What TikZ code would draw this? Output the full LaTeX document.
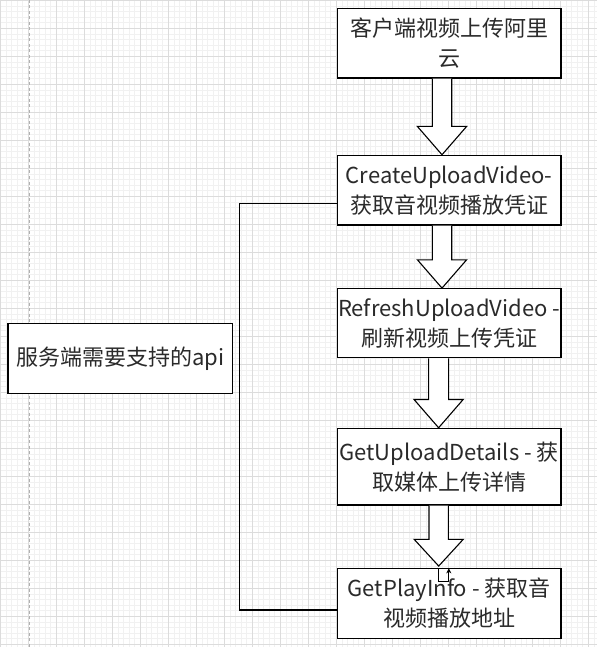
\documentclass[tikz,border=0pt]{standalone}
\usepackage{fontspec}
\setmainfont{Noto Sans CJK SC}
\usetikzlibrary{calc,arrows.meta}
\definecolor{gridmajor}{HTML}{DCDCDC}
\definecolor{gridminor}{HTML}{F1F1F1}
\definecolor{dashgray}{HTML}{B0B0B0}
\definecolor{txt}{HTML}{2A2A2A}
\tikzset{
  box/.style={draw=black, line width=1.2pt, fill=white, minimum width=223.7pt,
    minimum height=69.7pt, inner sep=0pt, align=center, text=txt,
    font=\fontsize{22}{30}\selectfont},
  blk/.style={draw=black, line width=1.1pt, fill=white, line join=miter},
  conn/.style={draw=black, line width=1.2pt},
}
\newcommand\blockarrow[5]{% from, to, x offset, shaft half width, head length
  \draw[blk] let \p1=(#1.south), \p2=(#2.north) in
    (\x1+#3pt-#4pt,\y1) -- (\x1+#3pt-#4pt,\y2+#5pt) -- (\x1+#3pt-24.6pt,\y2+#5pt)
    -- (\x1+#3pt,\y2) -- (\x1+#3pt+24.6pt,\y2+#5pt) -- (\x1+#3pt+#4pt,\y2+#5pt)
    -- (\x1+#3pt+#4pt,\y1);
}
\begin{document}
\begin{tikzpicture}[x=1pt,y=-1pt]
\useasboundingbox (0,0) rectangle (597,647);
\fill[white] (0,0) rectangle (597,647);
% minor grid
\foreach \i in {0,...,107} {
  \draw[gridminor, line width=0.7pt] ({0.3+5.6*\i},0) -- ({0.3+5.6*\i},647);
}
\foreach \i in {0,...,116} {
  \draw[gridminor, line width=0.7pt] (0,{0.3+5.6*\i}) -- (597,{0.3+5.6*\i});
}
% major grid
\foreach \i in {0,...,21} {
  \draw[gridmajor, line width=1pt] ({0.3+28*\i},0) -- ({0.3+28*\i},647);
}
\foreach \i in {0,...,23} {
  \draw[gridmajor, line width=1pt] (0,{0.3+28*\i}) -- (597,{0.3+28*\i});
}
% page boundary dashed line
\draw[dashgray, line width=1pt, dash pattern=on 3pt off 2.5pt] (29,0) -- (29,647);

% boxes
\node[box] (b1) at (449.2,43.2) {客户端视频上传阿里\\云};
\node[box] (b2) at (449.2,190.2) {CreateUploadVideo-\\获取音视频播放凭证};
\node[box, minimum height=69pt] (b3) at (449.2,323.2) {RefreshUploadVideo -\\刷新视频上传凭证};
\node[box, minimum height=76.7pt] (b4) at (449.2,466.7) {GetUploadDetails - 获\\取媒体上传详情};
\node[box] (b5) at (449.2,603.5) {GetPlayInfo - 获取音\\视频播放地址};
\node[box, minimum width=224.3pt, minimum height=70pt] (api) at (120.2,358.3) {服务端需要支持的api};

% block arrows
\blockarrow{b1}{b2}{-7.2}{9.7}{28.3}
\blockarrow{b2}{b3}{-7.2}{9.7}{28.3}
\blockarrow{b3}{b4}{-10.6}{10}{28.3}
\draw[blk] let \p1=(b4.south), \p2=(b5.north) in
    (\x1-10.5pt-9.7pt,\y1) -- (\x1-10.5pt-9.7pt,\y2+28.7pt) -- (\x1-10.5pt-24.5pt,\y2+28.7pt)
    -- (\x1-10.5pt,\y2+2pt) -- (\x1-10.5pt+24.5pt,\y2+28.7pt) -- (\x1-10.5pt+9.7pt,\y2+28.7pt)
    -- (\x1-10.5pt+9.7pt,\y1);

% bracket connector
\coordinate (c1) at (239.3,203.3);
\coordinate (c2) at (239.3,610);
\draw[conn] (b2.west |- c1) -- (c1) -- (c2) -- (b5.west |- c2);

% small stray connector
\draw[black, line width=0.9pt, -{Stealth[length=5pt,width=5pt]}]
  ($(b5.north)+(-10.9,0)$) -- ++(0,13) -| ($(b5.north)+(-0.4,0.3)$);
\end{tikzpicture}
\end{document}
